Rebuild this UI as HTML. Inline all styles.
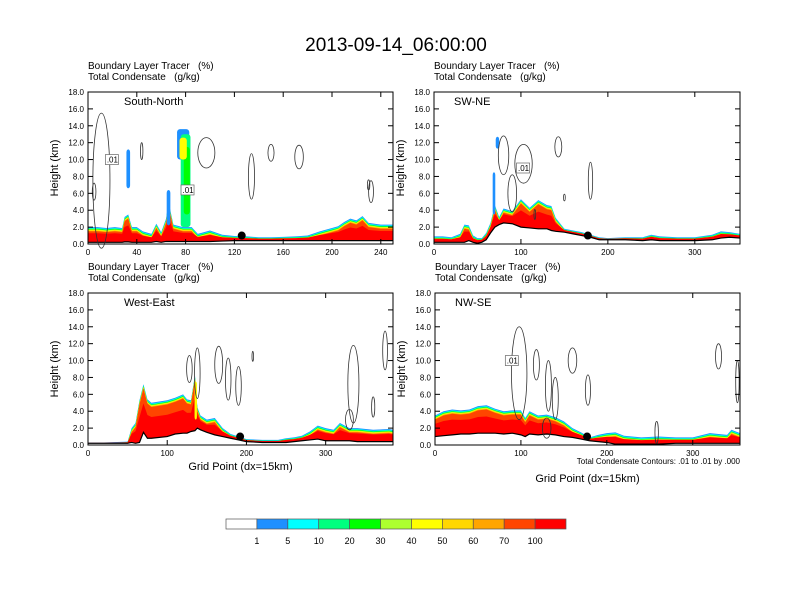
<!DOCTYPE html>
<html><head><meta charset="utf-8"><style>
body{margin:0;background:#fff;}
svg{display:block;font-family:"Liberation Sans",sans-serif;}
text{white-space:pre;}
</style></head><body>
<svg id="c" width="792" height="612" viewBox="0 0 792 612" xmlns="http://www.w3.org/2000/svg">
<text x="396" y="51" text-anchor="middle" font-size="19">2013-09-14_06:00:00</text>
</svg>
<script>
// ---- data ----
const levelLabels = ["1","5","10","20","30","40","50","60","70","100"];
const levelColors = ["#ffffff","#1e90ff","#00ffff","#00ff7f","#00ff00","#adff2f","#ffff00","#ffd700","#ffa500","#ff4500","#ff0000"];
const yTicks = [0,2,4,6,8,10,12,14,16,18];

const p1Name = "South-North", p1Max = 250, p1Ticks = [0,40,80,120,160,200,240];
const p1X =    [0,8,15,22,28,30,33,36,40,45,52,56,60,64,66,70,75,78,85,90,100,110,120,130,140,150,160,170,180,190,200,205,210,215,220,225,230,240,250];
const p1Top =  [2.0,2.0,1.9,2.0,1.9,3.2,3.5,2.0,2.0,1.5,1.2,2.4,1.4,3.0,5.0,2.3,2.1,2.0,2.0,1.2,1.6,1.1,0.95,0.9,0.8,0.8,0.85,0.9,1.0,1.5,1.9,2.1,2.6,3.0,2.8,3.3,2.5,2.3,2.3];
const p1Ter =  [0.2,0.2,0.2,0.2,0.2,0.25,0.25,0.2,0.2,0.2,0.2,0.3,0.2,0.3,0.3,0.3,0.3,0.3,0.3,0.3,0.3,0.35,0.4,0.4,0.4,0.4,0.4,0.4,0.4,0.4,0.4,0.4,0.4,0.4,0.4,0.4,0.4,0.4,0.4];
const p1CloudX = [33,78,80,81,78,66];
const p1CloudW = [3,10,8,5,6,3];
const p1CloudB = [6.6,10.0,2.0,3.5,10.0,2.2];
const p1CloudT = [11.2,13.6,13.0,11.5,12.6,6.4];
const p1CloudC = [1,1,3,4,6,1];
const p1EllX = [11,5,44,97,134,150,173,232,230];
const p1EllY = [7.5,6.2,11,10.8,8,10.8,10.3,6.2,7];
const p1EllRx = [7,1.5,1,7,2.5,2.5,3.5,2,1];
const p1EllRy = [8,1,1,1.8,2.7,1,1.4,1.3,0.6];
const p1Labels = [[20,10,".01"],[82,6.4,".01"]];
const p1Dot = [126,1.0];

const p2Name = "SW-NE", p2Max = 352, p2Ticks = [0,100,200,300];
const p2X =   [0,10,20,30,35,40,45,50,55,60,65,70,75,80,90,100,110,120,130,135,140,150,160,170,180,190,200,220,240,250,260,280,300,320,330,340,352];
const p2Top = [0.9,0.9,0.8,1.2,2.3,2.2,1.0,0.7,0.7,1.3,2.5,4.6,3.2,4.2,3.9,5.3,4.3,5.2,4.6,4.5,3.1,1.8,1.6,1.4,1.1,0.8,0.7,0.8,0.8,1.1,0.9,0.8,0.8,1.1,1.5,1.4,1.2];
const p2Ter = [0.2,0.2,0.2,0.2,0.2,0.4,0.2,0.1,0.2,0.5,1.3,2.0,2.3,2.5,2.4,2.0,1.9,1.8,1.8,1.6,1.5,1.4,1.2,1.0,0.8,0.5,0.5,0.5,0.4,0.5,0.4,0.4,0.4,0.5,0.7,0.8,0.7];
const p2CloudX = [73,69];
const p2CloudW = [4,3];
const p2CloudB = [11.3,3.5];
const p2CloudT = [12.7,8.5];
const p2CloudC = [1,1];
const p2EllX = [80,103,90,143,180,116,150];
const p2EllY = [10.5,9.5,6.0,11.5,7.5,3.5,5.5];
const p2EllRx = [6,10,5,4,2.5,1,1];
const p2EllRy = [2.3,2.3,2.2,1.2,2.2,0.6,0.4];
const p2Labels = [[103,9,".01"]];
const p2Dot = [177,1.0];

const p3Name = "West-East", p3Max = 385, p3Ticks = [0,100,200,300];
const p3X =   [0,20,50,55,60,65,70,75,80,100,110,120,125,130,135,138,142,150,160,170,180,190,200,220,240,250,260,270,280,290,300,310,318,330,340,360,380,385];
const p3Top = [0.3,0.3,0.4,2.0,2.6,5.3,7.2,5.4,5.0,5.3,5.6,6.0,5.4,5.3,8.3,4.5,3.5,3.0,3.2,2.0,1.3,1.0,0.7,0.6,0.6,0.8,0.9,1.1,1.6,2.3,2.0,1.8,2.6,2.0,2.0,1.8,1.9,1.8];
const p3Ter = [0.2,0.2,0.2,0.3,0.2,0.3,1.5,0.8,0.8,1.0,1.3,1.4,1.4,1.6,1.7,2.0,1.8,1.5,1.2,1.0,0.8,0.6,0.4,0.3,0.3,0.3,0.4,0.5,0.6,0.7,0.5,0.5,0.5,0.5,0.4,0.4,0.4,0.4];
const p3CloudX = [136];
const p3CloudW = [3];
const p3CloudB = [3.0];
const p3CloudT = [7.5];
const p3CloudC = [6];
const p3EllX = [128,138,165,177,190,208,335,330,375,360];
const p3EllY = [9.0,8.5,9.5,7.8,7.0,10.5,7.2,3.0,11.2,4.5];
const p3EllRx = [3.5,3.5,5,3.5,3.5,1,7,5,3,2];
const p3EllRy = [1.6,3.0,2.2,2.5,2.3,0.6,4.6,1.2,2.3,1.2];
const p3Labels = [];
const p3Dot = [192,1.0];

const p4Name = "NW-SE", p4Max = 355, p4Ticks = [0,100,200,300];
const p4X =   [0,10,20,30,40,50,60,70,80,90,100,105,110,120,130,140,150,160,170,180,190,200,210,220,240,260,280,300,320,340,345,355];
const p4Top = [3.5,4.0,4.2,4.1,4.2,4.6,4.7,4.3,4.0,4.1,4.1,3.2,4.0,3.5,3.6,3.3,2.8,2.0,1.5,0.9,1.2,1.4,1.5,1.1,0.9,1.0,0.9,0.9,1.4,1.2,1.8,1.4];
const p4Ter = [1.0,1.1,1.2,1.3,1.3,1.4,1.4,1.4,1.3,1.4,1.2,1.0,1.3,1.2,1.3,1.2,1.0,0.9,0.7,0.5,0.4,0.3,0.1,0.1,0.1,0.1,0.2,0.2,0.2,0.2,0.2,0.2];
const p4CloudX = [];
const p4CloudW = [];
const p4CloudB = [];
const p4CloudT = [];
const p4CloudC = [];
const p4EllX = [98,118,132,140,160,178,258,330,352,130];
const p4EllY = [8.5,9.5,7.0,5.5,10.0,6.5,1.5,10.5,7.5,2.0];
const p4EllRx = [9,3.5,3.5,3.5,5,3,2,3.5,2,5];
const p4EllRy = [5.5,1.8,3.0,2.5,1.5,1.8,1.3,1.5,2.5,1.2];
const p4Labels = [[90,10,".01"]];
const p4Dot = [177,1.0];

// ---- drawing ----
const svg = document.getElementById('c');
const NS = "http://www.w3.org/2000/svg";
function mk(tag, attrs, parent){const e=document.createElementNS(NS,tag);for(const k in attrs)e.setAttribute(k,attrs[k]);(parent||svg).appendChild(e);return e;}

const panels = [
 {L:88,R:393,T:92,B:244,name:p1Name,max:p1Max,ticks:p1Ticks,x:p1X,top:p1Top,ter:p1Ter,cx:p1CloudX,cw:p1CloudW,cb:p1CloudB,ct:p1CloudT,cc:p1CloudC,ex:p1EllX,ey:p1EllY,erx:p1EllRx,ery:p1EllRy,lab:p1Labels,dot:p1Dot,id:"south-north"},
 {L:434,R:740,T:92,B:244,name:p2Name,max:p2Max,ticks:p2Ticks,x:p2X,top:p2Top,ter:p2Ter,cx:p2CloudX,cw:p2CloudW,cb:p2CloudB,ct:p2CloudT,cc:p2CloudC,ex:p2EllX,ey:p2EllY,erx:p2EllRx,ery:p2EllRy,lab:p2Labels,dot:p2Dot,id:"sw-ne"},
 {L:88,R:393,T:293,B:445,name:p3Name,max:p3Max,ticks:p3Ticks,x:p3X,top:p3Top,ter:p3Ter,cx:p3CloudX,cw:p3CloudW,cb:p3CloudB,ct:p3CloudT,cc:p3CloudC,ex:p3EllX,ey:p3EllY,erx:p3EllRx,ery:p3EllRy,lab:p3Labels,dot:p3Dot,id:"west-east"},
 {L:435,R:740,T:293,B:445,name:p4Name,max:p4Max,ticks:p4Ticks,x:p4X,top:p4Top,ter:p4Ter,cx:p4CloudX,cw:p4CloudW,cb:p4CloudB,ct:p4CloudT,cc:p4CloudC,ex:p4EllX,ey:p4EllY,erx:p4EllRx,ery:p4EllRy,lab:p4Labels,dot:p4Dot,id:"nw-se"}
];
const offs = [0,0.1,0.17,0.23,0.28,0.33,0.38,0.43,0.5];
panels.forEach((p,pi)=>{
  const g = mk('g',{});
  
  
  const sx = v => p.L + (v/p.max)*(p.R-p.L);
  const sy = v => p.B - (v/18)*(p.B-p.T);
  const s1=mk('text',{x:p.L,y:p.T-23,'font-size':10},g); s1.textContent="Boundary Layer Tracer   (%)";
   
  const s2=mk('text',{x:p.L,y:p.T-12,'font-size':10},g); s2.textContent="Total Condensate   (g/kg)";
   
  for(let k=1;k<=10;k++){
    let pts=[];
    for(let i=0;i<p.x.length;i++){
      const h=p.top[i],t=p.ter[i];
      const sc=Math.min(1,(h-t)/1.2+0.25);
      let v;
      if(k<=9) v=Math.max(t, h-offs[k-1]*sc);
      else v=t+(h-t)*0.6;
      pts.push(sx(p.x[i])+','+sy(v));
    }
    for(let i=p.x.length-1;i>=0;i--) pts.push(sx(p.x[i])+','+sy(p.ter[i]));
    const pg=mk('polygon',{points:pts.join(' '),fill:levelColors[k]},g);
    
    
  }
  for(let i=0;i<p.cx.length;i++){
    const r=mk('rect',{x:sx(p.cx[i]-p.cw[i]/2),y:sy(p.ct[i]),width:sx(p.cw[i])-p.L,height:sy(p.cb[i])-sy(p.ct[i]),rx:3,fill:levelColors[p.cc[i]]},g);
    
    
  }
  let tp=[];for(let i=0;i<p.x.length;i++) tp.push(sx(p.x[i])+','+sy(p.ter[i]));
  const tl=mk('polyline',{points:tp.join(' '),fill:'none',stroke:'#000','stroke-width':1.2},g);
   
  for(let i=0;i<p.ex.length;i++){
    const e=mk('ellipse',{cx:sx(p.ex[i]),cy:sy(p.ey[i]),rx:sx(p.erx[i])-p.L,ry:sy(0)-sy(p.ery[i]),fill:'none',stroke:'#333','stroke-width':0.8},g);
     
  }
  p.lab.forEach(l=>{
    const r=mk('rect',{x:sx(l[0])-7,y:sy(l[1])-5,width:13,height:10,fill:'#fff',stroke:'#666','stroke-width':0.7},g);
     
    const t=mk('text',{x:sx(l[0]),y:sy(l[1])+3,'font-size':8,'text-anchor':'middle'},g); t.textContent=l[2];
     
  });
  const d=mk('circle',{cx:sx(p.dot[0]),cy:sy(p.dot[1]),r:4,fill:'#000'},g);
   
  const fr=mk('rect',{x:p.L,y:p.T,width:p.R-p.L,height:p.B-p.T,fill:'none',stroke:'#000','stroke-width':1},g);
   
  const nm=mk('text',{x:p.L+(pi%2?20:36),y:p.T+13,'font-size':11},g); nm.textContent=p.name;
   
  yTicks.forEach(v=>{
    const y=sy(v);
    mk('line',{x1:p.L,x2:p.L+5,y1:y,y2:y,stroke:'#000'},g);
    mk('line',{x1:p.R,x2:p.R-5,y1:y,y2:y,stroke:'#000'},g);
    const t=mk('text',{x:p.L-4,y:y+3,'font-size':8,'text-anchor':'end'},g); t.textContent=v.toFixed(1);
     
  });
  p.ticks.forEach(v=>{
    const x=sx(v);
    mk('line',{x1:x,x2:x,y1:p.B,y2:p.B-5,stroke:'#000'},g);
    mk('line',{x1:x,x2:x,y1:p.T,y2:p.T+5,stroke:'#000'},g);
    const t=mk('text',{x:x,y:p.B+11,'font-size':8,'text-anchor':'middle'},g); t.textContent=v;
     
  });
  const yt=mk('text',{x:0,y:0,'font-size':11,'text-anchor':'middle',transform:`translate(${p.L-30},${(p.T+p.B)/2}) rotate(-90)`},g);
  yt.textContent="Height (km)";
   
  if(pi>=2){
    const xt=mk('text',{x:(p.L+p.R)/2,y:p.B+(pi===3?37:25),'font-size':11,'text-anchor':'middle'},g);
    xt.textContent="Grid Point (dx=15km)";
     
  }
  if(pi===3){
    const n=mk('text',{x:p.R,y:p.B+19,'font-size':8,'text-anchor':'end'},g);
    n.textContent="Total Condensate Contours: .01 to .01 by .000";
     
  }
});
const cb = mk('g',{});


const cbL=226, cbW=340/11;
levelColors.forEach((c,i)=>{
  const r=mk('rect',{x:cbL+i*cbW,y:519,width:cbW,height:10,fill:c,stroke:'#555','stroke-width':0.7},cb);
   
});
levelLabels.forEach((l,i)=>{
  const t=mk('text',{x:cbL+(i+1)*cbW,y:544,'font-size':9,'text-anchor':'middle'},cb); t.textContent=l;
   
});
</script>
</body></html>
